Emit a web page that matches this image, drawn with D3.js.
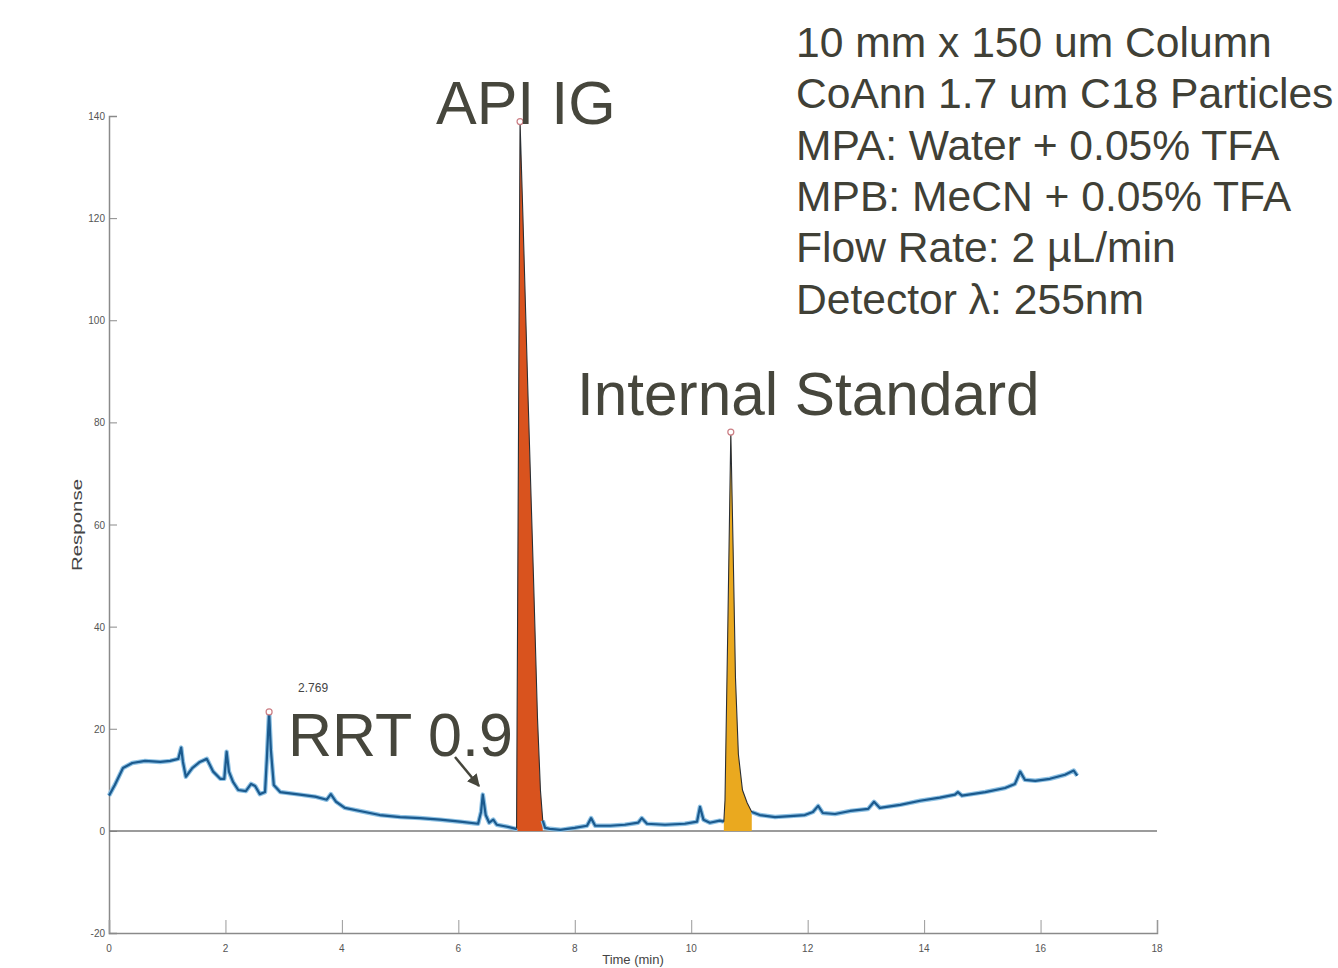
<!DOCTYPE html>
<html lang="en">
<head>
<meta charset="UTF-8">
<title>Chromatogram</title>
<script src="https://cdnjs.cloudflare.com/ajax/libs/d3/7.8.5/d3.min.js"></script>
<style>
  body { margin: 0; background: #fff; font-family: "Liberation Sans", Arial, sans-serif; }
  svg { display: block; }
</style>
</head>
<body>
<div id="chart"></div>
<script>
const width = 1338;
const height = 968;

// retention time (min) and detector response
const times = [0.00, 0.10, 0.24, 0.40, 0.62, 0.88, 1.05, 1.19, 1.24, 1.27, 1.32, 1.43, 1.56, 1.68, 1.79, 1.91, 1.98,
  2.02, 2.06, 2.13, 2.22, 2.35, 2.44, 2.51, 2.59, 2.68, 2.71, 2.75, 2.78, 2.83, 2.94, 3.28, 3.54, 3.74, 3.81, 3.90,
  4.05, 4.31, 4.65, 5.00, 5.34, 5.69, 6.03, 6.34, 6.39, 6.42, 6.47, 6.53, 6.60, 6.66, 6.84, 6.99,
  7.00, 7.03, 7.06, 7.11, 7.20, 7.29, 7.36, 7.41, 7.45, 7.49,
  7.57, 7.75, 8.00, 8.21, 8.28, 8.35, 8.61, 8.86, 9.09, 9.15, 9.24, 9.55, 9.89, 10.10, 10.15, 10.21, 10.32, 10.49, 10.56,
  10.58, 10.63, 10.68, 10.72, 10.76, 10.81, 10.88, 10.96, 11.04,
  11.18, 11.44, 11.70, 11.95, 12.09, 12.18, 12.26, 12.47, 12.73, 13.04, 13.14, 13.24, 13.59, 13.93, 14.27, 14.53,
  14.58, 14.65, 15.05, 15.39, 15.56, 15.65, 15.73, 15.91, 16.16, 16.42, 16.57, 16.63];
const response = [6.9, 9.0, 12.3, 13.3, 13.7, 13.5, 13.7, 14.1, 16.3, 13.5, 10.6, 12.3, 13.5, 14.1, 11.6, 10.2, 10.2,
  15.5, 11.6, 9.6, 8.0, 7.8, 9.2, 8.8, 7.2, 7.6, 13.9, 23.3, 15.9, 9.0, 7.6, 7.1, 6.7, 6.1, 7.2, 5.7,
  4.5, 3.9, 3.1, 2.7, 2.5, 2.2, 1.8, 1.4, 3.7, 7.1, 3.1, 1.6, 2.2, 1.2, 0.8, 0.4,
  0.5, 70, 138.9, 120, 84, 50, 22, 8, 2, 0.6,
  0.4, 0.2, 0.6, 1.0, 2.5, 1.0, 1.0, 1.2, 1.6, 2.5, 1.4, 1.2, 1.4, 1.8, 4.7, 2.2, 1.6, 2.0, 1.8,
  6, 41, 78.1, 55, 30, 15, 8.0, 5.5, 3.7,
  3.1, 2.7, 2.9, 3.1, 3.7, 4.9, 3.5, 3.3, 3.9, 4.3, 5.7, 4.5, 5.1, 5.9, 6.5, 7.1,
  7.6, 6.9, 7.6, 8.4, 9.2, 11.6, 10.0, 9.8, 10.2, 11.0, 11.8, 10.8];

// integrated peaks: [start, end] in minutes
const peakNames = ["API IG", "Internal Standard"];
const peakRanges = [[7.00, 7.45], [10.56, 11.04]];
const peakColors = ["#d9531e", "#eaa91f"];

// marked apexes
const apexTimes = [2.75, 7.06, 10.68];
const apexValues = [23.3, 138.9, 78.1];
const apexLabel = "2.769";

const xTicks = [0, 2, 4, 6, 8, 10, 12, 14, 16, 18];
const yTicks = [-20, 0, 20, 40, 60, 80, 100, 120, 140];

const methodLines = [
  "10 mm x 150 um Column",
  "CoAnn 1.7 um C18 Particles",
  "MPA: Water + 0.05% TFA",
  "MPB: MeCN + 0.05% TFA",
  "Flow Rate: 2 \u00b5L/min",
  "Detector \u03bb: 255nm"
];

const data = times.map((t, i) => ({ t: t, r: response[i] }));
const inPeak = d => peakRanges.some(p => d.t > p[0] + 0.005 && d.t < p[1] - 0.005);

const x = d3.scaleLinear().domain([0, 18]).range([109, 1157]);
const y = d3.scaleLinear().domain([-20, 140]).range([933, 116]);

const svg = d3.select("#chart").append("svg")
  .attr("width", width)
  .attr("height", height);

const axisColor = "#8a8a8a";
const tickFont = "'Liberation Sans Narrow', 'Liberation Sans', sans-serif";

// y axis
const yAxis = svg.append("g")
  .attr("transform", `translate(${x(0)},0)`)
  .call(d3.axisRight(y).tickValues(yTicks).tickSize(8).tickFormat(""));
yAxis.select(".domain").attr("stroke", axisColor).attr("stroke-width", 1.5);
yAxis.selectAll(".tick line").attr("stroke", axisColor);

svg.append("g").selectAll("text")
  .data(yTicks)
  .join("text")
  .attr("x", x(0) - 4)
  .attr("y", d => y(d) + 4)
  .attr("text-anchor", "end")
  .attr("font-family", tickFont)
  .attr("font-size", 10)
  .attr("fill", "#555555")
  .text(d => d);

// x axis
const xAxis = svg.append("g")
  .attr("transform", `translate(0,${y(-20)})`)
  .call(d3.axisTop(x).tickValues(xTicks).tickSize(13).tickFormat(""));
xAxis.select(".domain").attr("stroke", axisColor).attr("stroke-width", 1.5);
xAxis.selectAll(".tick line").attr("stroke", "#999");

svg.append("g").selectAll("text")
  .data(xTicks)
  .join("text")
  .attr("x", d => x(d))
  .attr("y", y(-20) + 19)
  .attr("text-anchor", "middle")
  .attr("font-family", tickFont)
  .attr("font-size", 10)
  .attr("fill", "#555555")
  .text(d => d);

// zero line
svg.append("line")
  .attr("x1", x(0)).attr("x2", x(18))
  .attr("y1", y(0)).attr("y2", y(0))
  .attr("stroke", "#7a7a7a")
  .attr("stroke-width", 1.5);

// axis titles
svg.append("text")
  .attr("transform", `translate(82,525) rotate(-90)`)
  .attr("text-anchor", "middle")
  .attr("font-size", 14)
  .attr("textLength", 92)
  .attr("lengthAdjust", "spacingAndGlyphs")
  .attr("fill", "#444")
  .text("Response");

svg.append("text")
  .attr("x", x(9))
  .attr("y", 964)
  .attr("text-anchor", "middle")
  .attr("font-size", 13)
  .attr("fill", "#444")
  .text("Time (min)");

// filled peaks
const area = d3.area()
  .x(d => x(d.t))
  .y0(y(0))
  .y1(d => y(d.r));

peakRanges.forEach((rng, i) => {
  const seg = data.filter(d => d.t >= rng[0] && d.t <= rng[1]);
  svg.append("path")
    .datum(seg)
    .attr("d", area)
    .attr("fill", peakColors[i]);
});

// trace (baseline part, peaks outlined separately)
const line = d3.line()
  .x(d => x(d.t))
  .y(d => y(d.r));
const baseLine = d3.line()
  .defined(d => !inPeak(d))
  .x(d => x(d.t))
  .y(d => y(d.r));

svg.append("path")
  .datum(data)
  .attr("d", baseLine)
  .attr("fill", "none")
  .attr("stroke", "#8fc2e4")
  .attr("stroke-width", 4.5)
  .attr("stroke-linejoin", "round");

svg.append("path")
  .datum(data)
  .attr("d", baseLine)
  .attr("fill", "none")
  .attr("stroke", "#1b5a8e")
  .attr("stroke-width", 2.2)
  .attr("stroke-linejoin", "round");

// peak outlines on top
peakRanges.forEach(rng => {
  const seg = data.filter(d => d.t >= rng[0] && d.t <= rng[1]);
  svg.append("path")
    .datum(seg)
    .attr("d", line)
    .attr("fill", "none")
    .attr("stroke", "#2b2f33")
    .attr("stroke-width", 1.1);
});

// apex markers
svg.append("g").selectAll("circle")
  .data(apexTimes)
  .join("circle")
  .attr("cx", d => x(d))
  .attr("cy", (d, i) => y(apexValues[i]))
  .attr("r", 3)
  .attr("fill", "#fff")
  .attr("stroke", "#cc7f85")
  .attr("stroke-width", 1.2);

// small retention time label
svg.append("text")
  .attr("x", x(apexTimes[0]) + 29)
  .attr("y", 692)
  .attr("font-family", tickFont)
  .attr("font-size", 12)
  .attr("fill", "#444")
  .text(apexLabel);

// big annotations
const bigColor = "#46463c";
svg.append("text")
  .attr("x", 436).attr("y", 124)
  .attr("font-size", 61)
  .attr("fill", bigColor)
  .text(peakNames[0]);

svg.append("text")
  .attr("x", 577).attr("y", 415)
  .attr("font-size", 60.3)
  .attr("fill", bigColor)
  .text(peakNames[1]);

svg.append("text")
  .attr("x", 288).attr("y", 756)
  .attr("font-size", 61)
  .attr("fill", bigColor)
  .text("RRT 0.9");

// arrow to the RRT 0.9 peak
svg.append("defs").append("marker")
  .attr("id", "head")
  .attr("viewBox", "0 0 10 10")
  .attr("refX", 9).attr("refY", 5)
  .attr("markerWidth", 5).attr("markerHeight", 5)
  .attr("orient", "auto")
  .append("path")
  .attr("d", "M0,0 L10,5 L0,10 Z")
  .attr("fill", bigColor);

svg.append("line")
  .attr("x1", 455).attr("y1", 757)
  .attr("x2", 479).attr("y2", 786)
  .attr("stroke", bigColor)
  .attr("stroke-width", 2.5)
  .attr("marker-end", "url(#head)");

// method conditions
svg.append("g").selectAll("text")
  .data(methodLines)
  .join("text")
  .attr("x", 796)
  .attr("y", (d, i) => 57 + i * 51.3)
  .attr("font-size", 42.6)
  .attr("fill", "#404036")
  .text(d => d);
</script>
</body>
</html>
